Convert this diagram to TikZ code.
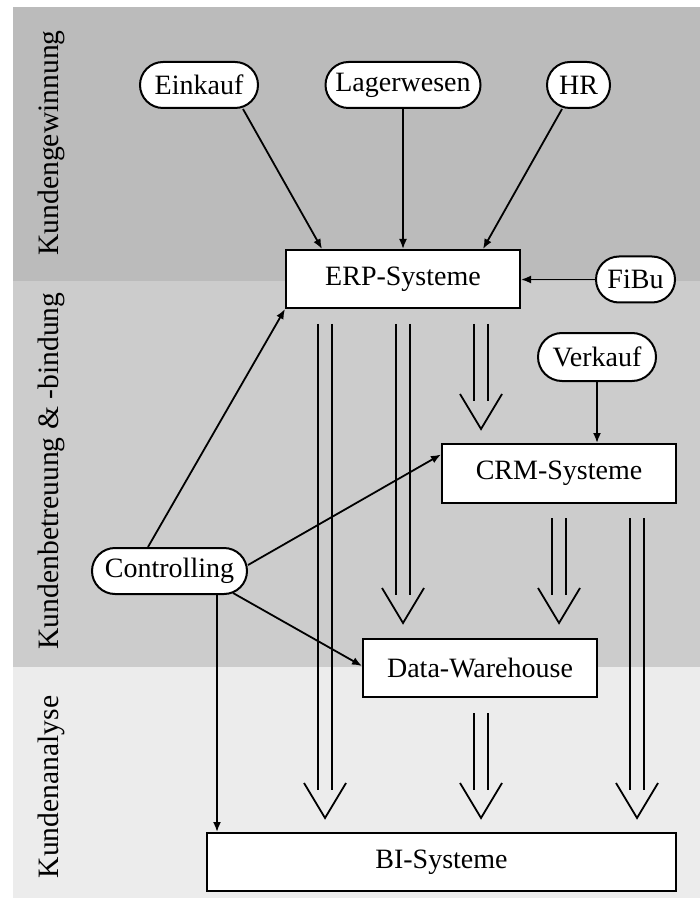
\documentclass[tikz,border=0pt]{standalone}
\usepackage{fontspec}
\setmainfont{Liberation Serif}
\usetikzlibrary{calc,arrows.meta}
\tikzset{
  pill/.style={draw=black, line width=1pt, fill=white, rounded corners=11.5pt,
    minimum height=23pt, inner sep=0pt, font=\fontsize{14}{16}\selectfont},
  box/.style={draw=black, line width=1pt, fill=white, minimum height=29pt,
    inner sep=0pt, font=\fontsize{14}{16}\selectfont},
  band/.style={rotate=90, font=\fontsize{14.8}{17}\selectfont, inner sep=0pt},
  arr/.style={line width=0.9pt, -{Latex[length=5pt,width=4pt]}},
  hol/.style={line width=0.9pt}
}
\newcommand\hollowarr[2]{%
  \draw[hol] ($(#1)+(-7,0)$) -- ($(#2)+(-7,-28)$);
  \draw[hol] ($(#1)+(7,0)$) -- ($(#2)+(7,-28)$);
  \draw[hol, line join=miter] ($(#2)+(-21,-35)$) -- (#2) -- ($(#2)+(21,-35)$);
}
\begin{document}
\begin{tikzpicture}[x=0.5pt, y=-0.5pt]
\useasboundingbox (0,0) rectangle (700,898);
\fill[white] (0,0) rectangle (700,898);
% bands
\fill[fill={rgb,255:red,187;green,187;blue,187}] (13,7) rectangle (700,281);
\fill[fill={rgb,255:red,204;green,204;blue,204}] (13,281) rectangle (700,667);
\fill[fill={rgb,255:red,236;green,236;blue,236}] (13,667) rectangle (700,898);
\node[band] (l1) at (51,143) {Kundengewinnung};
\node[band] (l2) at (51,471) {Kundenbetreuung \& -bindung};
\node[band] (l3) at (51,787) {Kundenanalyse};

% nodes
\node[pill, minimum width=59pt] (ein) at (199,85) {Einkauf};
\node[pill, minimum width=77.5pt] (lag) at (403,85) {Lagerwesen};
\node[pill, minimum width=31.5pt] (hr) at (578.5,85) {HR};
\node[pill, minimum width=39.5pt] (fibu) at (635.5,279.5) {FiBu};
\node[pill, minimum width=59pt, minimum height=24pt, rounded corners=12pt] (verk) at (597,357) {Verkauf};
\node[pill, minimum width=77.5pt] (ctrl) at (169.5,571) {Controlling};
\node[box, minimum width=117pt] (erp) at (403,279) {ERP-Systeme};
\node[box, minimum width=117pt, minimum height=29.5pt] (crm) at (559,473.5) {CRM-Systeme};
\node[box, minimum width=117pt] (dwh) at (480,668) {Data-Warehouse};
\node[box, minimum width=234.5pt] (bi) at (441.5,862) {BI-Systeme};

% hollow arrows
\coordinate (h1s) at (325,324); \coordinate (h1e) at (325,818);
\coordinate (h2s) at (403,324); \coordinate (h2e) at (403,623);
\coordinate (h3s) at (481,324); \coordinate (h3e) at (481,429);
\coordinate (h4s) at (559,518); \coordinate (h4e) at (559,623);
\coordinate (h5s) at (637,518); \coordinate (h5e) at (637,818);
\coordinate (h6s) at (481,713); \coordinate (h6e) at (481,818);
\hollowarr{h1s}{h1e}
\hollowarr{h2s}{h2e}
\hollowarr{h3s}{h3e}
\hollowarr{h4s}{h4e}
\hollowarr{h5s}{h5e}
\hollowarr{h6s}{h6e}

% simple arrows
\draw[arr] ($(ein.south east)+(-16,0)$) -- ($(erp.north west)+(37,0)$);
\draw[arr] (lag.south) -- (lag.south |- erp.north);
\draw[arr] ($(hr.south)+(-16.5,0)$) -- ($(erp.north east)+(-38,0)$);
\draw[arr] (fibu.west) -- (fibu.west -| erp.east);
\draw[arr] (verk.south) -- (verk.south |- crm.north);
\draw[arr] ($(ctrl.north)+(-21.5,0)$) -- (erp.south west);
\draw[arr] ($(ctrl.east)+(0,-6)$) -- ($(crm.west)+(0,-19)$);
\draw[arr] ($(ctrl.south east)+(-15,-2)$) -- ($(dwh.west)+(0,-2)$);
\coordinate (cbx) at (217,0);
\draw[arr] (ctrl.south -| cbx) -- (bi.north -| cbx);
\end{tikzpicture}
\end{document}
